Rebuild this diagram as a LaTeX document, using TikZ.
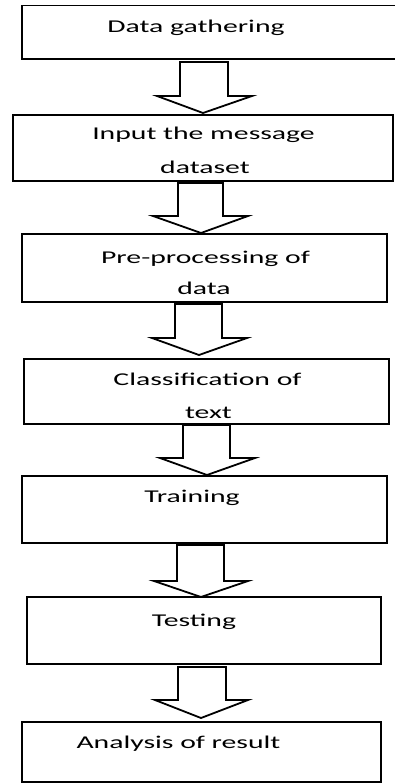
\documentclass[tikz,border=0pt]{standalone}
\usepackage{fontspec}
\setmainfont{Carlito}
\newcommand{\wt}[1]{\scalebox{1.65}[1]{#1}}
\tikzset{
  stagebox/.style={draw=black, line width=1.8pt, inner sep=0pt, outer sep=0pt, anchor=north west},
  lbl/.style={anchor=base, inner sep=0pt, font=\fontsize{18}{18}\selectfont},
  blockarrow/.style={draw=black, line width=1.8pt, line join=miter, fill=white}
}
% #1 shaft left, #2 shaft right, #3 top, #4 head base, #5 head left, #6 head right, #7 tip x, #8 tip y
\newcommand{\barrow}[8]{%
  \draw[blockarrow] (#1,#3) -- (#1,#4) -- (#5,#4) -- (#7,#8) -- (#6,#4) -- (#2,#4) -- (#2,#3) -- cycle;}
\begin{document}
\begin{tikzpicture}[x=1pt,y=-1pt]
\useasboundingbox (0,0) rectangle (395,783);
\clip (0,0) rectangle (395,783);
% boxes
\node[stagebox, minimum width=380pt, minimum height=53.5pt] (b1) at (22,5.5) {};
\node[stagebox, minimum width=380pt, minimum height=66pt] (b2) at (13,115) {};
\node[stagebox, minimum width=365pt, minimum height=68pt] (b3) at (22,234) {};
\node[stagebox, minimum width=365pt, minimum height=65pt] (b4) at (24,359) {};
\node[stagebox, minimum width=365pt, minimum height=67pt] (b5) at (22,476) {};
\node[stagebox, minimum width=354pt, minimum height=67pt] (b6) at (27,597) {};
\node[stagebox, minimum width=359pt, minimum height=60pt] (b7) at (22,722) {};
% labels
\node[lbl] (t1) at (196,33) {\wt{Data gathering}};
\node[lbl] (t2a) at (203.5,140) {\wt{Input the message}};
\node[lbl] (t2b) at (205,174) {\wt{dataset}};
\node[lbl] (t3a) at (205.5,263) {\wt{Pre-processing of}};
\node[lbl] (t3b) at (204,294) {\wt{data}};
\node[lbl] (t4a) at (207.5,385) {\wt{Classification of}};
\node[lbl] (t4b) at (208.5,418) {\wt{text}};
\node[lbl] (t5) at (192,502) {\wt{Training}};
\node[lbl] (t6) at (194,626) {\wt{Testing}};
\node[lbl] (t7) at (178.5,748) {\wt{Analysis of result}};
% block arrows
\barrow{180}{228}{62}{96}{157}{252}{203}{113}
\barrow{178}{223}{183}{216}{153}{248}{201}{233}
\barrow{175}{222}{304}{338}{152}{247}{199}{355}
\barrow{183}{230}{425}{458}{160}{255}{207}{475}
\barrow{177}{224}{545}{581}{154}{248}{201}{597}
\barrow{178}{226}{667}{700}{155}{248}{201}{718}
\end{tikzpicture}
\end{document}
